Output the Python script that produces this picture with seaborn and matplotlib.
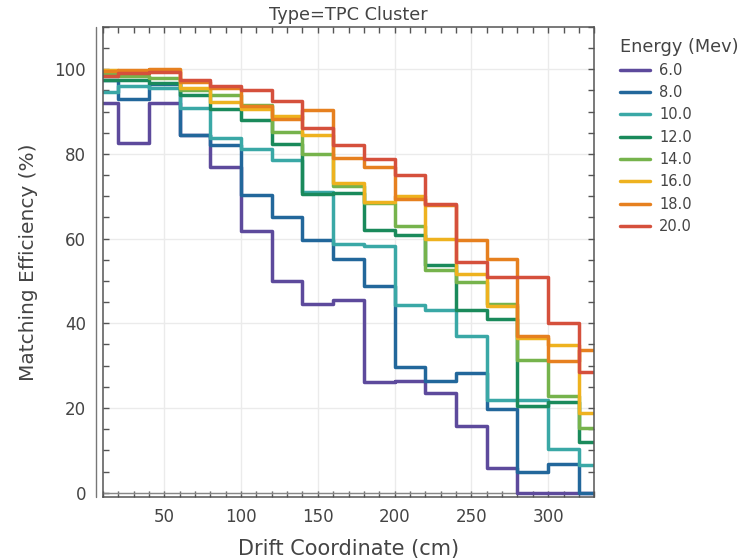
import pandas as pd
import matplotlib.pyplot as plt
from matplotlib.ticker import MultipleLocator
from matplotlib.lines import Line2D
import seaborn as sns

# bin centres along the drift coordinate (cm)
drift = [10, 30, 50, 70, 90, 110, 130, 150, 170, 190, 210, 230, 250, 270, 290, 310, 330]

energies = ['6.0', '8.0', '10.0', '12.0', '14.0', '16.0', '18.0', '20.0']

eff_6 = [92.0, 82.6, 92.0, 84.5, 77.0, 61.9, 50.0, 44.6, 45.6, 26.2, 26.4, 23.6, 15.8, 5.8, 0.0, 0.0, 0.0]
eff_8 = [97.5, 93.0, 96.5, 84.5, 82.0, 70.4, 65.2, 59.7, 55.2, 48.7, 29.7, 26.4, 28.3, 19.8, 5.0, 6.8, 0.0]
eff_10 = [94.7, 96.0, 95.6, 90.8, 83.7, 81.2, 78.5, 71.0, 58.8, 58.2, 44.4, 43.2, 36.9, 22.0, 22.0, 10.3, 6.6]
eff_12 = [97.5, 97.4, 96.7, 93.8, 90.6, 87.9, 82.4, 70.5, 70.8, 62.1, 60.9, 53.7, 43.2, 41.0, 20.4, 21.4, 12.0]
eff_14 = [99.0, 98.5, 98.0, 95.0, 94.0, 91.5, 85.1, 80.0, 72.5, 68.5, 62.9, 52.7, 49.7, 44.6, 31.4, 22.9, 15.3]
eff_16 = [99.8, 99.3, 99.8, 95.5, 92.2, 90.7, 89.0, 84.5, 73.1, 68.6, 70.1, 59.9, 51.7, 44.2, 36.5, 34.8, 18.8]
eff_18 = [99.5, 99.7, 100.0, 97.0, 95.6, 91.3, 88.3, 90.3, 79.0, 77.0, 69.4, 68.0, 59.7, 55.1, 37.0, 31.2, 33.8]
eff_20 = [98.5, 99.0, 99.3, 97.4, 96.1, 95.0, 92.6, 86.2, 82.2, 78.8, 74.9, 68.2, 54.5, 50.9, 51.0, 40.1, 28.6]

colors = ['#5d4a9c', '#22679b', '#3aa8a6', '#1a8a5b', '#76b34c', '#eeb21f', '#e6801f', '#d5503c']

series = [eff_6, eff_8, eff_10, eff_12, eff_14, eff_16, eff_18, eff_20]
rows = []
for e, vals in zip(energies, series):
    for x, v in zip(drift, vals):
        rows.append({'Drift Coordinate (cm)': x, 'Matching Efficiency (%)': v, 'Energy (Mev)': e})
df = pd.DataFrame(rows)

sns.set_theme(style='white')
plt.rcParams['font.family'] = ['DejaVu Sans']
grey = '#444444'
plt.rcParams['text.color'] = grey
plt.rcParams['axes.labelcolor'] = grey
plt.rcParams['xtick.color'] = grey
plt.rcParams['ytick.color'] = grey

fig = plt.figure(figsize=(7.4, 5.59), dpi=100)
ax = fig.add_axes([0.139, 0.111, 0.664, 0.841])

sns.lineplot(data=df, x='Drift Coordinate (cm)', y='Matching Efficiency (%)',
             hue='Energy (Mev)', hue_order=energies, palette=colors,
             drawstyle='steps-mid', linewidth=2.5, ax=ax)

ax.set_xlim(10, 330)
ax.set_ylim(-1, 110)
ax.xaxis.set_major_locator(MultipleLocator(50))
ax.xaxis.set_minor_locator(MultipleLocator(10))
ax.yaxis.set_major_locator(MultipleLocator(20))
ax.yaxis.set_minor_locator(MultipleLocator(5))
ax.tick_params(which='both', direction='in', top=True, right=True,
               bottom=True, left=True, length=4, width=1, color='#555555',
               labelsize=12)
ax.tick_params(axis='y', which='both', pad=12)
ax.tick_params(axis='x', which='both', pad=8)
ax.grid(True, which='major', color='#ebebeb', linewidth=1)
ax.set_axisbelow(True)
ax.axhline(0, color='#888888', linewidth=1, zorder=1)
for s in ax.spines.values():
    s.set_color('#555555')
    s.set_linewidth(1.1)

ax.set_xlabel('Drift Coordinate (cm)', fontsize=15, labelpad=9)
ax.set_ylabel('Matching Efficiency (%)', fontsize=14.5, labelpad=12)
ax.set_title('Type=TPC Cluster', fontsize=12.8, color=grey, pad=5)

# outer frame line to the left of the y axis
fig.add_artist(Line2D([0.130, 0.130], [0.111, 0.952], color='#777777', linewidth=1))

sns.move_legend(ax, 'upper left', bbox_to_anchor=(1.025, 1.005), frameon=False,
                title='Energy (Mev)', fontsize=10.5, title_fontsize=12.8,
                handlelength=2.1, handletextpad=0.6, labelspacing=0.5,
                alignment='left')

fig.savefig('out.png', dpi=100)
